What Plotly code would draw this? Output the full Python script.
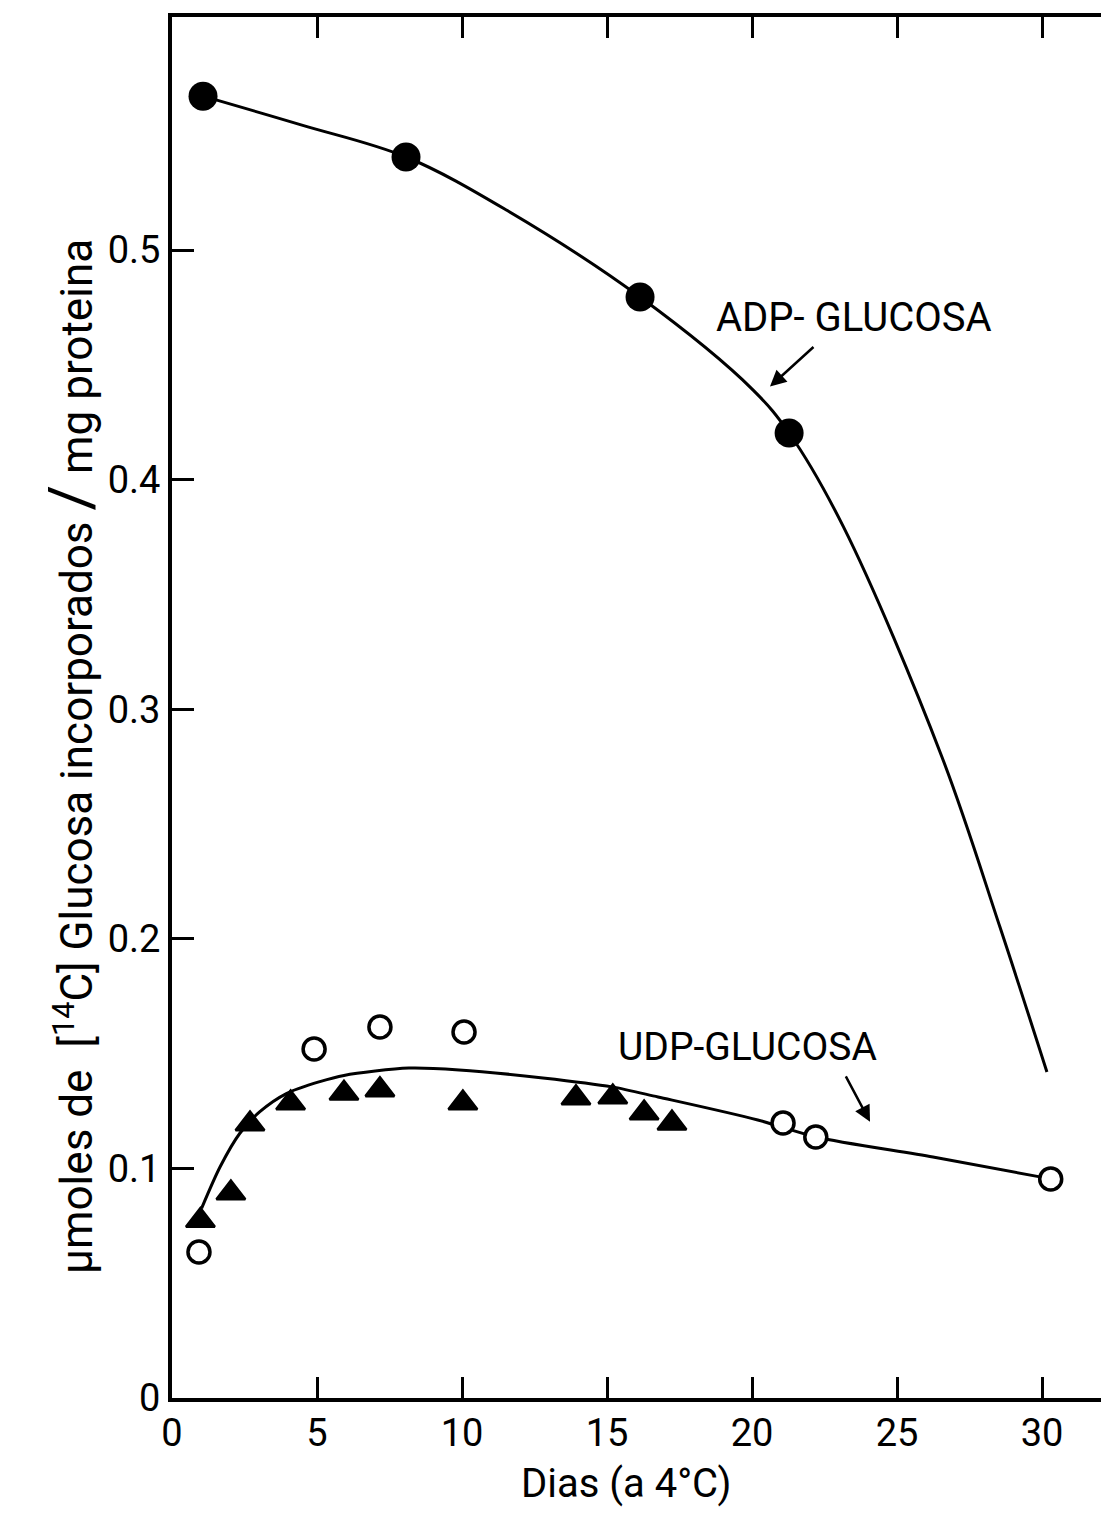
import plotly.graph_objects as go

# ---- data ----
days_ticks = [0, 5, 10, 15, 20, 25, 30]
y_ticks = [0, 0.1, 0.2, 0.3, 0.4, 0.5]
y_ticktext = ["0", "0.1", "0.2", "0.3", "0.4", "0.5"]

# ADP-glucosa (filled circles)
adp_x = [1.07, 8.07, 16.14, 21.28]
adp_y = [0.567, 0.5405, 0.4795, 0.4203]
# ADP fitted curve
adp_curve_x = [1.07, 4.48, 8.07, 11.53, 16.14, 20.04, 21.28, 23.15, 26.55, 28.55, 30.17]
adp_curve_y = [0.567, 0.5544, 0.5405, 0.5174, 0.4795, 0.439, 0.4203, 0.3795, 0.2792, 0.2051, 0.142]

# UDP-glucosa (open circles)
udp_open_x = [0.93, 4.9, 7.17, 10.07, 21.07, 22.2, 30.3]
udp_open_y = [0.0636, 0.152, 0.1616, 0.1594, 0.1198, 0.1137, 0.0954]
# UDP-glucosa (filled triangles)
udp_tri_x = [0.98, 2.03, 2.69, 4.09, 5.93, 7.17, 10.03, 13.93, 15.2, 16.28, 17.24]
udp_tri_y = [0.0773, 0.0893, 0.1193, 0.1285, 0.1327, 0.1342, 0.1285, 0.1307, 0.1311, 0.1241, 0.1197]
# UDP fitted curve
udp_curve_x = [1.02, 1.66, 2.34, 3.03, 3.96, 5.1, 5.93, 8.17, 9.9, 12.79, 15.17, 16.76,
               20.2, 22.2, 26.24, 29.93]
udp_curve_y = [0.0826, 0.1007, 0.1153, 0.1247, 0.1327, 0.1378, 0.1405, 0.1437, 0.1429, 0.1394,
               0.1355, 0.1311, 0.1211, 0.1137, 0.105, 0.0963]

FONT = "Roboto, Liberation Sans, sans-serif"

# page geometry (browser body has an 8px margin)
OFF = 8
PLOT_LEFT, PLOT_TOP, PLOT_RIGHT, PLOT_BOTTOM = 172, 17, 1109, 1398
W, H = 1109 - OFF, 1513 - OFF
ML = PLOT_LEFT - OFF
MT = PLOT_TOP - OFF
MR = W - (PLOT_RIGHT - OFF)
MB = H - (PLOT_BOTTOM - OFF)
PX_PER_DAY = 29.0
PX_PER_UNIT = 2296.0
XMAX = (PLOT_RIGHT - PLOT_LEFT) / PX_PER_DAY
YMAX = (PLOT_BOTTOM - PLOT_TOP) / PX_PER_UNIT


def paper_x(px):
    return (px - PLOT_LEFT) / (PLOT_RIGHT - PLOT_LEFT)


def paper_y(py):
    return (PLOT_BOTTOM - py) / (PLOT_BOTTOM - PLOT_TOP)


fig = go.Figure()
fig.add_trace(go.Scatter(x=adp_curve_x, y=adp_curve_y, mode="lines",
                         line=dict(color="black", width=3, shape="spline", smoothing=1.0),
                         hoverinfo="skip", showlegend=False))
fig.add_trace(go.Scatter(x=udp_curve_x, y=udp_curve_y, mode="lines",
                         line=dict(color="black", width=3, shape="spline", smoothing=0.8),
                         hoverinfo="skip", showlegend=False))
fig.add_trace(go.Scatter(x=adp_x, y=adp_y, mode="markers", name="ADP-glucosa",
                         marker=dict(symbol="circle", size=29, color="black"),
                         showlegend=False))
fig.add_trace(go.Scatter(x=udp_tri_x, y=udp_tri_y, mode="markers", name="UDP-glucosa",
                         marker=dict(symbol="triangle-up", size=25, color="black",
                                     line=dict(color="black", width=2.5)),
                         showlegend=False))
fig.add_trace(go.Scatter(x=udp_open_x, y=udp_open_y, mode="markers", name="UDP-glucosa",
                         marker=dict(symbol="circle", size=22, color="white",
                                     line=dict(color="black", width=3.5)),
                         showlegend=False))

fig.update_layout(
    width=W, height=H,
    margin=dict(l=ML, r=MR, t=MT, b=MB, pad=0),
    paper_bgcolor="white", plot_bgcolor="white",
    font=dict(family=FONT, size=38, color="black"),
    xaxis=dict(range=[0, XMAX], tickvals=days_ticks, ticks="inside", ticklen=21,
               tickwidth=2.5, tickcolor="black", showline=True, linewidth=4,
               linecolor="black", mirror="ticks", showgrid=False, zeroline=False,
               tickfont=dict(size=38, family=FONT), ticklabelstandoff=-2),
    yaxis=dict(range=[0, YMAX], tickvals=y_ticks, ticktext=y_ticktext, ticks="inside",
               ticklen=22, tickwidth=2.5, tickcolor="black", showline=True, linewidth=4,
               linecolor="black", showgrid=False, zeroline=False,
               tickfont=dict(size=38, family=FONT), ticklabelstandoff=0),
    yaxis2=dict(range=[0, YMAX], overlaying="y", side="right", anchor="x",
                tickvals=y_ticks[1:], ticks="inside", ticklen=17, tickwidth=2.5,
                tickcolor="black", showticklabels=False, showline=False,
                showgrid=False, zeroline=False),
)

# series labels with arrows
fig.add_annotation(x=23.5, y=0.4704, text="ADP- GLUCOSA", showarrow=False,
                   xanchor="center", yanchor="middle", font=dict(size=40, family=FONT))
fig.add_annotation(x=20.62, y=0.4405, ax=45, ay=-41, text="", showarrow=True,
                   arrowhead=2, arrowsize=1.3, arrowwidth=2.5, arrowcolor="black")
fig.add_annotation(x=19.84, y=0.1527, text="UDP-GLUCOSA", showarrow=False,
                   xanchor="center", yanchor="middle", font=dict(size=39, family=FONT))
fig.add_annotation(x=24.07, y=0.1203, ax=-25, ay=-47, text="", showarrow=True,
                   arrowhead=2, arrowsize=1.3, arrowwidth=2.5, arrowcolor="black")

# axis titles
fig.add_annotation(xref="paper", yref="paper", x=paper_x(626), y=paper_y(1483),
                   xanchor="center", yanchor="middle",
                   text="Dias (a 4°C)", showarrow=False, font=dict(size=40, family=FONT))
fig.add_annotation(xref="paper", yref="paper", x=paper_x(70), y=paper_y(757),
                   xanchor="center", yanchor="middle",
                   textangle=-90, showarrow=False, font=dict(size=44, family=FONT),
                   text="µmoles de  [<sup>14</sup>C] Glucosa incorporados "
                        "<span style=\"font-size:62px\">/</span> mg proteina")

fig.write_html("out.html")
